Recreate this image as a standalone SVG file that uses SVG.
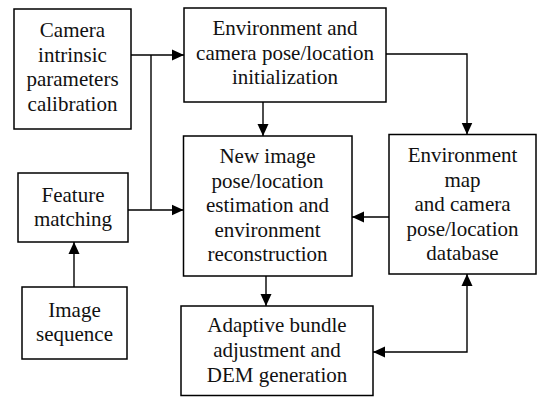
<svg xmlns="http://www.w3.org/2000/svg" width="537" height="397" viewBox="0 0 537 397">
<defs>
<marker id="ah" markerUnits="userSpaceOnUse" markerWidth="12" markerHeight="12" viewBox="0 0 12 12" refX="12" refY="6" orient="auto-start-reverse">
<path d="M0,0.5 L12,6 L0,11.5 Z" fill="#000"/>
</marker>
</defs>
<rect width="537" height="397" fill="#fff"/>
<g id="n1">
<rect x="14" y="9" width="117" height="120" fill="#fff" stroke="#000" stroke-width="1.5"/>
<text x="72.5" y="37" font-family="Liberation Serif" font-size="21" text-anchor="middle" fill="#111">Camera</text>
<text x="72.5" y="61.5" font-family="Liberation Serif" font-size="21" text-anchor="middle" fill="#111">intrinsic</text>
<text x="72.5" y="86" font-family="Liberation Serif" font-size="21" text-anchor="middle" fill="#111">parameters</text>
<text x="72.5" y="110.5" font-family="Liberation Serif" font-size="21" text-anchor="middle" fill="#111">calibration</text>
</g>
<g id="n2">
<rect x="184" y="8" width="202" height="94" fill="#fff" stroke="#000" stroke-width="1.5"/>
<text x="285" y="35" font-family="Liberation Serif" font-size="21" text-anchor="middle" fill="#111">Environment and</text>
<text x="285" y="59.5" font-family="Liberation Serif" font-size="21" text-anchor="middle" fill="#111">camera pose/location</text>
<text x="285" y="84" font-family="Liberation Serif" font-size="21" text-anchor="middle" fill="#111">initialization</text>
</g>
<g id="n3">
<rect x="183.5" y="136" width="168.5" height="140" fill="#fff" stroke="#000" stroke-width="1.5"/>
<text x="267.5" y="163" font-family="Liberation Serif" font-size="21" text-anchor="middle" fill="#111">New image</text>
<text x="267.5" y="187.5" font-family="Liberation Serif" font-size="21" text-anchor="middle" fill="#111">pose/location</text>
<text x="267.5" y="212" font-family="Liberation Serif" font-size="21" text-anchor="middle" fill="#111">estimation and</text>
<text x="267.5" y="236.5" font-family="Liberation Serif" font-size="21" text-anchor="middle" fill="#111">environment</text>
<text x="267.5" y="261" font-family="Liberation Serif" font-size="21" text-anchor="middle" fill="#111">reconstruction</text>
</g>
<g id="n4">
<rect x="389" y="134.5" width="147" height="139.5" fill="#fff" stroke="#000" stroke-width="1.5"/>
<text x="462.5" y="162" font-family="Liberation Serif" font-size="21" text-anchor="middle" fill="#111">Environment</text>
<text x="462.5" y="186.5" font-family="Liberation Serif" font-size="21" text-anchor="middle" fill="#111">map</text>
<text x="462.5" y="211" font-family="Liberation Serif" font-size="21" text-anchor="middle" fill="#111">and camera</text>
<text x="462.5" y="235.5" font-family="Liberation Serif" font-size="21" text-anchor="middle" fill="#111">pose/location</text>
<text x="462.5" y="260" font-family="Liberation Serif" font-size="21" text-anchor="middle" fill="#111">database</text>
</g>
<g id="n5">
<rect x="18" y="173" width="110" height="69" fill="#fff" stroke="#000" stroke-width="1.5"/>
<text x="73" y="202" font-family="Liberation Serif" font-size="21" text-anchor="middle" fill="#111">Feature</text>
<text x="73" y="226" font-family="Liberation Serif" font-size="21" text-anchor="middle" fill="#111">matching</text>
</g>
<g id="n6">
<rect x="22" y="287" width="105" height="72" fill="#fff" stroke="#000" stroke-width="1.5"/>
<text x="74.5" y="317" font-family="Liberation Serif" font-size="21" text-anchor="middle" fill="#111">Image</text>
<text x="74.5" y="341" font-family="Liberation Serif" font-size="21" text-anchor="middle" fill="#111">sequence</text>
</g>
<g id="n7">
<rect x="181" y="306" width="192" height="89.5" fill="#fff" stroke="#000" stroke-width="1.5"/>
<text x="277" y="332" font-family="Liberation Serif" font-size="21" text-anchor="middle" fill="#111">Adaptive bundle</text>
<text x="277" y="357" font-family="Liberation Serif" font-size="21" text-anchor="middle" fill="#111">adjustment and</text>
<text x="277" y="382" font-family="Liberation Serif" font-size="21" text-anchor="middle" fill="#111">DEM generation</text>
</g>
<g id="connectors" fill="none" stroke="#000" stroke-width="1.4">
<path d="M131,55 H184" marker-end="url(#ah)"/>
<path d="M151,55 V210"/>
<path d="M128,210 H183.5" marker-end="url(#ah)"/>
<path d="M263,102 V136" marker-end="url(#ah)"/>
<path d="M386,54 H467 V134.5" marker-end="url(#ah)"/>
<path d="M389,217 H352" marker-end="url(#ah)"/>
<path d="M266,276 V306" marker-end="url(#ah)"/>
<path d="M74,287 V242" marker-end="url(#ah)"/>
<path d="M467,274 V352 H373" marker-start="url(#ah)" marker-end="url(#ah)"/>
</g>
</svg>
